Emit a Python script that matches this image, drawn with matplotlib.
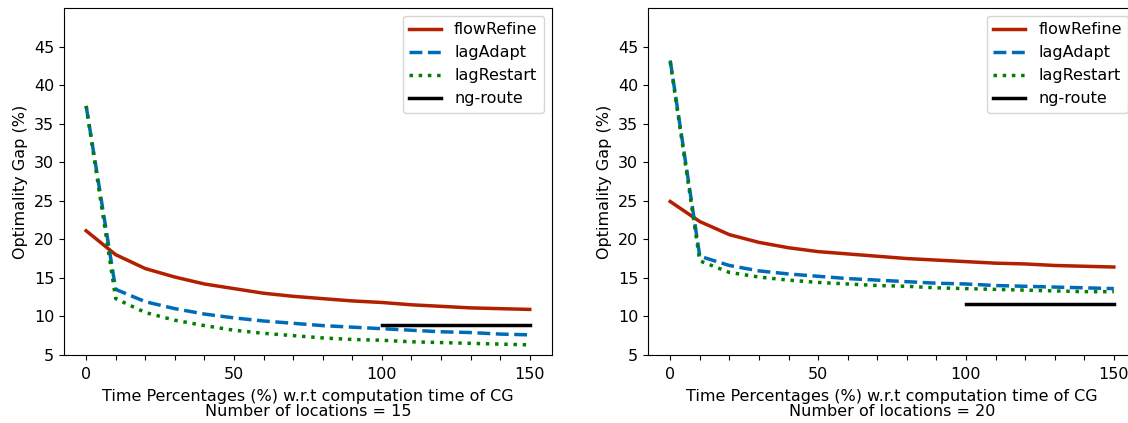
import matplotlib
matplotlib.use('Agg')
import matplotlib.pyplot as plt

# 横轴：计算时间百分比
time_pct = [0, 10, 20, 30, 40, 50, 60, 70, 80, 90, 100, 110, 120, 130, 140, 150]

# 15 个地点
flow_15 = [21.1, 18.0, 16.2, 15.1, 14.2, 13.6, 13.0, 12.6, 12.3, 12.0, 11.8, 11.5, 11.3, 11.1, 11.0, 10.9]
adapt_15 = [37.3, 13.5, 11.9, 11.0, 10.3, 9.8, 9.4, 9.1, 8.8, 8.6, 8.4, 8.2, 8.0, 7.9, 7.7, 7.6]
restart_15 = [37.3, 12.3, 10.5, 9.5, 8.8, 8.2, 7.8, 7.5, 7.2, 7.0, 6.9, 6.7, 6.6, 6.5, 6.4, 6.3]
ng_x_15 = [100, 150]
ng_15 = [8.9, 8.9]

# 20 个地点
flow_20 = [24.9, 22.3, 20.6, 19.6, 18.9, 18.4, 18.1, 17.8, 17.5, 17.3, 17.1, 16.9, 16.8, 16.6, 16.5, 16.4]
adapt_20 = [43.2, 17.8, 16.6, 15.9, 15.5, 15.2, 14.9, 14.7, 14.5, 14.3, 14.2, 14.0, 13.9, 13.8, 13.7, 13.6]
restart_20 = [43.0, 17.2, 15.7, 15.1, 14.7, 14.4, 14.2, 14.0, 13.9, 13.7, 13.6, 13.5, 13.4, 13.3, 13.2, 13.2]
ng_x_20 = [100, 150]
ng_20 = [11.6, 11.6]

locations = [15, 20]
x_ticks = list(range(0, 151, 10))
x_labels = [str(t) if t % 50 == 0 else '' for t in x_ticks]
y_ticks = [5, 10, 15, 20, 25, 30, 35, 40, 45]

plt.rcParams['font.family'] = ['DejaVu Sans']
plt.rcParams['font.size'] = 11.5

fig = plt.figure(figsize=(11.28, 4.23), dpi=100)
axes = [fig.add_axes([0.0567, 0.161, 0.4326, 0.820]),
        fig.add_axes([0.5745, 0.161, 0.4326, 0.820])]

data = [(flow_15, adapt_15, restart_15, ng_x_15, ng_15),
        (flow_20, adapt_20, restart_20, ng_x_20, ng_20)]

for ax, (flow, adapt, restart, ng_x, ng), n in zip(axes, data, locations):
    ax.plot(time_pct, flow, color='#b32000', linewidth=2.5, label='flowRefine')
    ax.plot(time_pct, adapt, color='#006bb8', linewidth=2.5, linestyle='--', label='lagAdapt')
    ax.plot(time_pct, restart, color='#007f00', linewidth=2.5, linestyle=':', label='lagRestart')
    ax.plot(ng_x, ng, color='black', linewidth=2.5, label='ng-route')
    ax.set_ylim(5, 50)
    ax.set_xticks(x_ticks)
    ax.set_xticklabels(x_labels)
    ax.set_yticks(y_ticks)
    ax.tick_params(axis='x', pad=5)
    ax.set_ylabel('Optimality Gap (%)')
    ax.set_xlabel('Time Percentages (%) w.r.t computation time of CG\nNumber of locations = ' + str(n),
                  labelpad=5, linespacing=1.0)
    ax.legend(loc='upper right')

fig.savefig('out.png', dpi=100)
